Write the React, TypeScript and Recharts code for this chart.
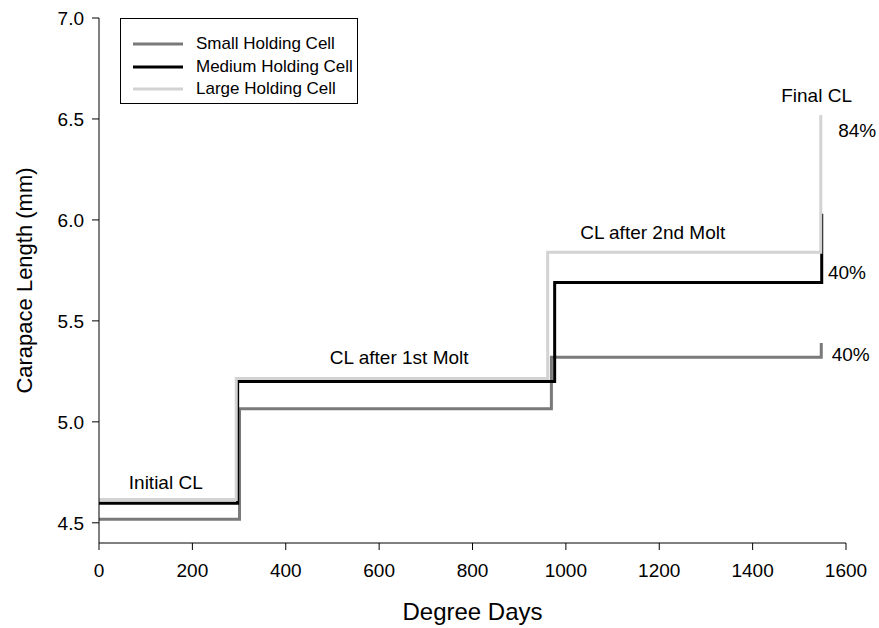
import {
    Line,
    LineChart,
    ReferenceDot,
    XAxis,
    YAxis,
} from "recharts";

// degree days at which each cell steps up, and carapace length (mm) after each step
const smallDays = [0, 301, 969, 1547];
const smallCL = [4.518, 5.065, 5.32, 5.39];
const mediumDays = [0, 297, 976, 1548];
const mediumCL = [4.597, 5.2, 5.69, 6.03];
const largeDays = [0, 294, 961, 1546];
const largeCL = [4.616, 5.215, 5.84, 6.52];

const xTicks = [0, 200, 400, 600, 800, 1000, 1200, 1400, 1600];
const yTicks = [4.5, 5.0, 5.5, 6.0, 6.5, 7.0];

const noteText = ["Initial CL", "CL after 1st Molt", "CL after 2nd Molt", "Final CL", "84%", "40%", "40%"];
const noteDays = [143, 643, 1186, 1537, 1624, 1602, 1610];
const noteCL = [4.7, 5.32, 5.94, 6.617, 6.443, 5.74, 5.335];

const FONT = "'Liberation Sans', Arial, Helvetica, sans-serif";

const toPoints = (days: number[], cl: number[]) =>
    days.map((d, i) => ({ x: d, y: cl[i] }));

const series = [
    { name: "Small Holding Cell", color: "#7a7a7a", data: toPoints(smallDays, smallCL) },
    { name: "Medium Holding Cell", color: "#000000", data: toPoints(mediumDays, mediumCL) },
    { name: "Large Holding Cell", color: "#d3d3d3", data: toPoints(largeDays, largeCL) },
];

const LegendBox = () => (
    <div
        style={{
            position: "absolute",
            left: 120,
            top: 18,
            border: "1px solid #000",
            background: "#fff",
            width: 238,
            height: 86,
            boxSizing: "border-box",
            padding: "14px 0 0 12px",
            fontFamily: FONT,
            fontSize: 17,
            color: "#000",
        }}
    >
        {series.map((s) => (
            <div
                key={s.name}
                style={{ display: "flex", alignItems: "center", height: 22.5, whiteSpace: "nowrap" }}
            >
                <svg width={50} height={4} style={{ marginRight: 13, flexShrink: 0 }}>
                    <line x1={0} y1={2} x2={50} y2={2} stroke={s.color} strokeWidth={3} />
                </svg>
                <span>{s.name}</span>
            </div>
        ))}
    </div>
);

const YTitle = (props: any) => {
    const vb = props.viewBox || { y: 18, height: 525 };
    const cy = vb.y + vb.height / 2;
    return (
        <text
            x={24}
            y={cy}
            transform={`rotate(-90, 24, ${cy})`}
            textAnchor="middle"
            dominantBaseline="central"
            fontFamily={FONT}
            fontSize={22}
            fill="#000"
        >
            Carapace Length (mm)
        </text>
    );
};

const XTitle = (props: any) => {
    const vb = props.viewBox || { x: 99, width: 747 };
    const cx = vb.x + vb.width / 2;
    return (
        <text
            x={cx}
            y={620}
            textAnchor="middle"
            fontFamily={FONT}
            fontSize={24}
            fill="#000"
        >
            Degree Days
        </text>
    );
};

const noteShape = (text: string) => (p: any) => (
    <text
        x={p.cx}
        y={p.cy}
        textAnchor="middle"
        dominantBaseline="central"
        fontFamily={FONT}
        fontSize={19}
        fill="#000"
    >
        {text}
    </text>
);

export default function App() {
    return (
        <div style={{ position: "absolute", left: 0, top: 0, width: 879, height: 628, background: "#fff" }}>
            <LineChart
                width={879}
                height={628}
                margin={{ top: 18, right: 33, left: 0, bottom: 0 }}
            >
                <XAxis
                    type="number"
                    dataKey="x"
                    domain={[0, 1600]}
                    ticks={xTicks}
                    allowDataOverflow
                    height={85}
                    tickSize={7}
                    tickMargin={14}
                    stroke="#000"
                    tick={{ fill: "#000", fontSize: 19, fontFamily: FONT }}
                    label={<XTitle />}
                />
                <YAxis
                    type="number"
                    dataKey="y"
                    domain={[4.4, 7.0]}
                    ticks={yTicks}
                    allowDataOverflow
                    width={99}
                    tickSize={7}
                    tickMargin={8}
                    stroke="#000"
                    tickFormatter={(v: number) => v.toFixed(1)}
                    tick={{ fill: "#000", fontSize: 19, fontFamily: FONT }}
                    label={<YTitle />}
                />
                {series.map((s) => (
                    <Line
                        key={s.name}
                        name={s.name}
                        data={s.data}
                        dataKey="y"
                        type="stepAfter"
                        stroke={s.color}
                        strokeWidth={3}
                        dot={false}
                        activeDot={false}
                        isAnimationActive={false}
                    />
                ))}
                {noteText.map((t, i) => (
                    <ReferenceDot
                        key={i}
                        x={noteDays[i]}
                        y={noteCL[i]}
                        r={0}
                        ifOverflow="visible"
                        shape={noteShape(t)}
                    />
                ))}
            </LineChart>
            <LegendBox />
        </div>
    );
}
